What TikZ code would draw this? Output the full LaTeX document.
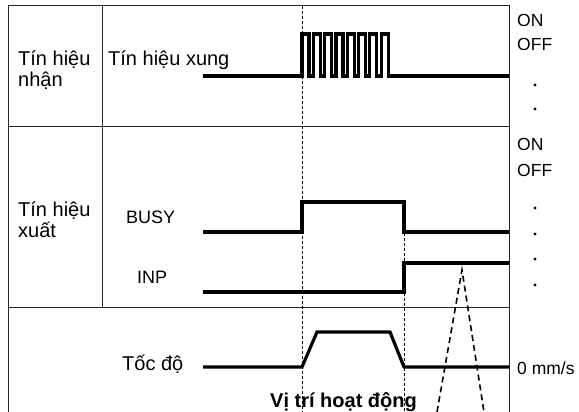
\documentclass[tikz,border=0pt]{standalone}
\usepackage{fontspec}
\setmainfont{Liberation Sans}
\tikzset{
  gridline/.style={line width=1pt, draw=black!85},
  signal/.style={line width=3.2pt, line join=miter},
  marker/.style={line width=1pt, dash pattern=on 3pt off 2pt},
  travel/.style={line width=1.6pt, dash pattern=on 6pt off 4pt},
  rowtext/.style={font=\fontsize{20}{21}\selectfont, inner sep=0pt, anchor=base west, align=left},
  sigtext/.style={font=\fontsize{18}{21}\selectfont, inner sep=0pt, anchor=base west},
  statetext/.style={font=\fontsize{17.5}{21}\selectfont, inner sep=0pt, anchor=base west},
}
\begin{document}
\begin{tikzpicture}[x=1pt,y=-1pt]
\useasboundingbox (0,0) rectangle (579,412);
% table
\draw[gridline] (8,412) -- (8,6) -- (509,6) -- (509,412);
\draw[gridline] (8,127) -- (509,127);
\draw[gridline] (8,307) -- (509,307);
\draw[gridline] (102,6) -- (102,307);
% row labels
\node[rowtext] (recv) at (18,87) {Tín hiệu\\nhận};
\node[rowtext] (pulse) at (108,66) {Tín hiệu xung};
\node[rowtext] (send) at (18,237) {Tín hiệu\\xuất};
\node[sigtext] (busy) at (126,223) {BUSY};
\node[sigtext] (inp) at (137,283) {INP};
\node[rowtext] (speed) at (122,370) {Tốc độ};
\node[rowtext, font=\fontsize{20}{21}\selectfont\bfseries] (pos) at (270,407) {Vị trí hoạt động};
% states
\node[statetext] (on1) at (517,27) {ON};
\node[statetext] (off1) at (517,51) {OFF};
\node[statetext] (on2) at (517,150) {ON};
\node[statetext] (off2) at (517,176) {OFF};
\node[statetext] (zero) at (517,374) {0 mm/s};
\foreach \y in {85,109,208,234,259,285}
  \fill (535,\y) circle (1.6pt);
% markers
\draw[marker] (302,6) -- (302,412);
\draw[marker] (404,233) -- (404,412);
% signals
\draw[signal] (203,76) -- (302,76)
  \foreach \k in {0,...,7}{ -- (302+11.3*\k,34) -- (309+11.3*\k,34) -- (309+11.3*\k,76) -- (313.3+11.3*\k,76)}
  -- (509,76);
\draw[signal] (203,232) -- (302,232) -- (302,202) -- (404,202) -- (404,232) -- (509,232);
\draw[signal] (203,292) -- (404,292) -- (404,263) -- (509,263);
\draw[signal] (203,367) -- (302,367) -- (317,332) -- (390,332) -- (404,367) -- (509,367);
% position
\draw[travel] (437,412) -- (462,270) -- (484,412);
\end{tikzpicture}
\end{document}
